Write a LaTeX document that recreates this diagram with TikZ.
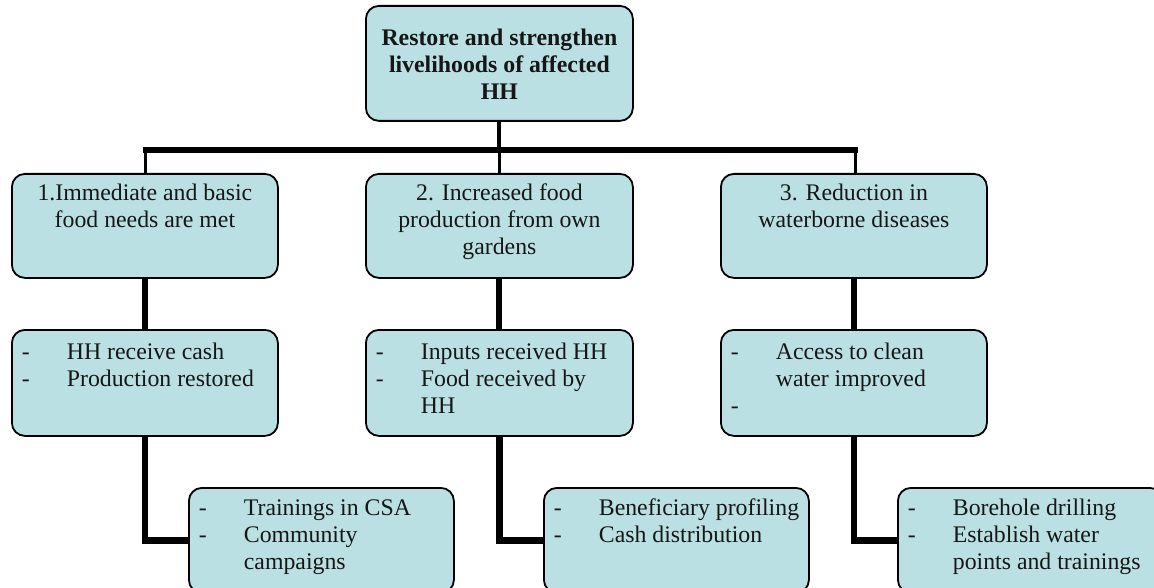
\documentclass[tikz,border=0pt]{standalone}
\usepackage{fontspec}
\setmainfont{Liberation Serif}
\definecolor{boxfill}{RGB}{187,224,227}
\definecolor{txt}{RGB}{22,22,22}
\newcommand\itm[1]{\hspace*{10pt}\makebox[45pt][l]{-}#1}
\newcommand\cont[1]{\hspace*{55pt}#1}
\newcommand\cbox[4]{\parbox[c][#2][t]{#1}{\centering\rule{0pt}{#3}#4}}
\newcommand\lbox[4]{\parbox[c][#2][t]{#1}{\raggedright\rule{0pt}{#3}#4}}
\tikzset{
  card/.style={draw=black, line width=1.8pt, fill=boxfill, rounded corners=13pt,
    inner sep=0pt, anchor=north west, text=txt,
    font=\fontsize{23.8}{27}\selectfont},
  link/.style={draw=black, line width=#1},
}
\begin{document}
\begin{tikzpicture}[x=1pt,y=-1pt]
\path[use as bounding box] (0,0) rectangle (1154,588);
\clip (0,0) rectangle (1154,588);
\coordinate (bar) at (0,150);
% top
\node[card] (top) at (365,5) {\cbox{267pt}{115pt}{40pt}{\bfseries Restore and strengthen\\ livelihoods of affected\\ HH}};
% level 1
\node[card] (o1) at (11,173) {\cbox{266pt}{104pt}{27pt}{1.Immediate and basic\\ food needs are met}};
\node[card] (o2) at (365,173) {\cbox{267pt}{104pt}{27pt}{2. Increased food\\ production from own\\ gardens}};
\node[card] (o3) at (720,173) {\cbox{266pt}{104pt}{27pt}{3. Reduction in\\ waterborne diseases}};
% level 2
\node[card] (r1) at (11,329) {\lbox{266pt}{106pt}{30pt}{\itm{HH receive cash}\\ \itm{Production restored}}};
\node[card] (r2) at (365,329) {\lbox{267pt}{106pt}{30pt}{\itm{Inputs received HH}\\ \itm{Food received by}\\ \cont{HH}}};
\node[card] (r3) at (720,329) {\lbox{266pt}{106pt}{30pt}{\itm{Access to clean}\\ \cont{water improved}\\ \itm{}}};
% level 3
\node[card] (a1) at (188,487) {\lbox{265pt}{105pt}{28pt}{\itm{Trainings in CSA}\\ \itm{Community}\\ \cont{campaigns}}};
\node[card] (a2) at (543,487) {\lbox{265pt}{105pt}{28pt}{\itm{Beneficiary profiling}\\ \itm{Cash distribution}}};
\node[card] (a3) at (897,487) {\lbox{265pt}{105pt}{28pt}{\itm{Borehole drilling}\\ \itm{Establish water}\\ \cont{points and trainings}}};
% connectors
\draw[link=4pt] (top.south) -- (top.south |- bar);
\draw[link=6pt] ([xshift=-2pt]o1.north |- bar) -- ([xshift=4pt]o3.north |- bar);
\draw[link=3pt] ([xshift=1pt]o1.north |- bar) -- ([xshift=1pt]o1.north);
\draw[link=3pt] (o2.north |- bar) -- (o2.north);
\draw[link=3pt] ([xshift=2pt]o3.north |- bar) -- ([xshift=2pt]o3.north);
\draw[link=6pt] (o1.south) -- (r1.north);
\draw[link=6pt] (o2.south) -- (r2.north);
\draw[link=6pt] (o3.south) -- (r3.north);
\draw[link=6.5pt] (r1.south) |- (a1.west);
\draw[link=6.5pt] (r2.south) |- (a2.west);
\draw[link=6.5pt] (r3.south) |- (a3.west);
\end{tikzpicture}
\end{document}
